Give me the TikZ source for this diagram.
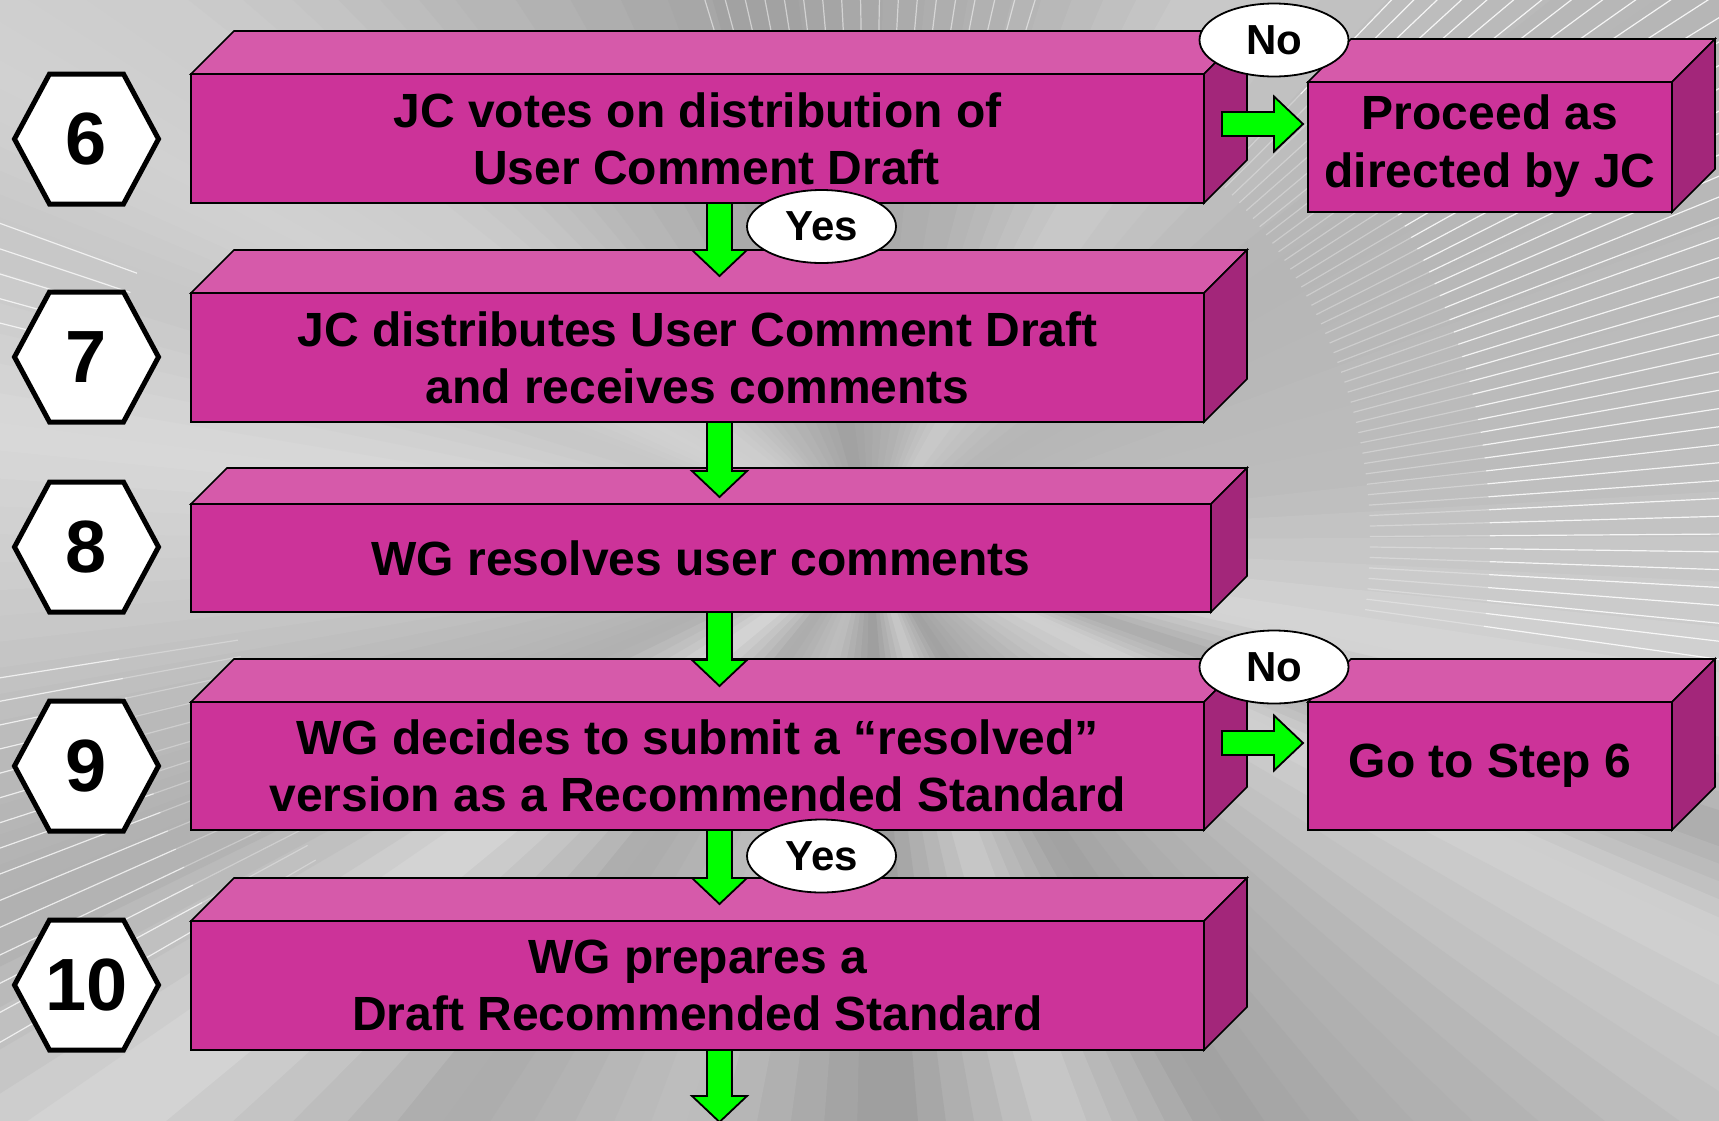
\documentclass[tikz,border=0pt]{standalone}
\usepackage{fontspec}
\setmainfont{Liberation Sans}
\usetikzlibrary{calc,shapes.geometric}
\definecolor{mfront}{RGB}{204,51,153}
\definecolor{mtop}{RGB}{214,90,170}
\definecolor{mside}{RGB}{163,38,122}
\definecolor{garr}{RGB}{0,255,0}
\tikzset{
 front/.style={draw=black,line width=1.6pt,fill=mfront,inner sep=0pt,outer sep=0pt,align=center,font=\fontsize{48}{57}\selectfont\bfseries},
 topface/.style={draw=black,line width=1.6pt,fill=mtop,line join=miter},
 sideface/.style={draw=black,line width=1.6pt,fill=mside,line join=miter},
 garrow/.style={draw=black,line width=1.8pt,fill=garr,line join=miter},
 hexline/.style={draw=black,line width=5pt,fill=white,line join=miter},
 hexnum/.style={inner sep=0pt,font=\fontsize{74}{74}\selectfont\bfseries},
 lab/.style={ellipse,draw=black,line width=1.8pt,fill=white,inner sep=0pt,minimum width=149pt,minimum height=73pt,font=\fontsize{42}{42}\selectfont\bfseries},
 wl/.style={white,line width=1.2pt},
}
\newcommand\cubefaces[2]{%
 \path[topface] (#1.north west) -- ++(#2,-#2) -- ($(#1.north east)+(#2,-#2)$) -- (#1.north east) -- cycle;
 \path[sideface] (#1.north east) -- ($(#1.north east)+(#2,-#2)$) -- ($(#1.south east)+(#2,-#2)$) -- (#1.south east) -- cycle;}
\newcommand\garrdown[2]{%
 \path[garrow] let \p1=(#1), \p2=(#2) in
 (\x1-12.5pt,\y1) -- (\x1+12.5pt,\y1) -- (\x1+12.5pt,\y2+26pt) -- (\x1+27.5pt,\y2+26pt) -- (\x1,\y2) -- (\x1-27.5pt,\y2+26pt) -- (\x1-12.5pt,\y2+26pt) -- cycle;}
\newcommand\garrright[2]{%
 \path[garrow] let \p1=(#1), \p2=(#2) in
 (\x1,\y1+12pt) -- (\x2-29pt,\y1+12pt) -- (\x2-29pt,\y1+27.5pt) -- (\x2,\y1) -- (\x2-29pt,\y1-27.5pt) -- (\x2-29pt,\y1-12pt) -- (\x1,\y1-12pt) -- cycle;}
\newcommand\hexat[3]{%
 \coordinate (hc#1) at (86.5,#2);
 \path[hexline] ($(hc#1)+(-37,-65)$) -- ($(hc#1)+(37,-65)$) -- ($(hc#1)+(72,0)$) -- ($(hc#1)+(37,65)$) -- ($(hc#1)+(-37,65)$) -- ($(hc#1)+(-72,0)$) -- cycle;
 \node[hexnum] (h#1) at (hc#1) {#3};}
\begin{document}
\begin{tikzpicture}[x=1pt,y=-1pt]
\useasboundingbox (0,0) rectangle (1719,1120);
% ---------- background ----------
\begin{scope}
\clip (0,0) rectangle (1719,1120);
\fill[white!72!black] (0,0) rectangle (1719,1120);
\coordinate (C) at (870,540);
\foreach \a/\g [remember=\a as \pa (initially -153), remember=\g as \pg (initially 82)] in
  {-153/82, -141.6/80, -127.5/72, -102/63, -75.3/70, -58/79, -34.5/71, -6.3/74, 11.9/84, 18.8/67, 25/82, 41/71, 58.8/63, 71.7/79, 88/61, 107.5/75, 126.3/67, 143.3/84, 156/69, 166.6/73, 176.7/80, 187.7/85, 199/78, 207/82} {
  \foreach \k in {0,...,5} {
    \pgfmathsetmacro\ta{\pa+(\a-\pa)*\k/6}
    \pgfmathsetmacro\tb{\pa+(\a-\pa)*(\k+1)/6+0.4}
    \pgfmathsetmacro\gg{\pg+(\g-\pg)*(\k+0.5)/6}
    \fill[white!\gg!black] (C) -- ($(C)+(\ta:2500)$) -- ($(C)+(\tb:2500)$) -- cycle;
  }
}
\foreach \a in {-46,-44.8,...,8} {
  \draw[wl,opacity=0.3] ($(C)+(\a:500)$) -- ($(C)+(\a:620)$);
  \draw[wl,opacity=0.85] ($(C)+(\a:620)$) -- ($(C)+(\a:1400)$);}
\foreach \a in {-107,-105,...,-72} {
  \draw[wl,opacity=0.5] ($(C)+(\a:500)$) -- ($(C)+(\a:900)$);}
\foreach \a in {150,151.5,...,172} {
  \draw[wl,opacity=0.3] ($(C)+(\a:640)$) -- ($(C)+(\a:760)$);
  \draw[wl,opacity=0.75] ($(C)+(\a:760)$) -- ($(C)+(\a:1200)$);}
\foreach \a in {194,195.5,...,201} {
  \draw[wl,opacity=0.75] ($(C)+(\a:780)$) -- ($(C)+(\a:1200)$);}
\end{scope}
% ---------- hexagons ----------
\hexat{6}{139}{6}
\hexat{7}{357}{7}
\hexat{8}{547}{8}
\hexat{9}{766}{9}
\hexat{10}{985}{10}
% ---------- boxes ----------
\node[front,minimum width=1013pt,minimum height=129pt] (b6) at (697.5,138.5) {JC votes on distribution of\\\hspace*{18pt}User Comment Draft};
\cubefaces{b6}{43}
\node[front,minimum width=1013pt,minimum height=129pt] (b7) at (697.5,357.5) {JC distributes User Comment Draft\\and receives comments};
\cubefaces{b7}{43}
\node[front,minimum width=1020pt,minimum height=108pt] (b8) at (701,558) {WG resolves user comments};
\cubefaces{b8}{36}
\node[front,minimum width=1013pt,minimum height=128pt] (b9) at (697.5,766) {WG decides to submit a “resolved”\\version as a Recommended Standard};
\cubefaces{b9}{43}
\node[front,minimum width=1013pt,minimum height=129pt] (b10) at (697.5,985.5) {WG prepares a\\Draft Recommended Standard};
\cubefaces{b10}{43}
\node[front,minimum width=364pt,minimum height=130pt] (pr) at (1490,147) {\raisebox{-3pt}{\begin{tabular}{@{}c@{}}Proceed as\\[1pt]directed by JC\end{tabular}}};
\cubefaces{pr}{43}
\node[front,minimum width=364pt,minimum height=128pt] (go) at (1490,766) {\raisebox{-3pt}{Go to Step 6}};
\cubefaces{go}{43}
% ---------- arrows ----------
\coordinate (ax) at (719.5,0);
\coordinate (end) at (719.5,1122);
\garrdown{ax |- b6.south}{$(ax |- b7.north)+(0,-17)$}
\garrdown{ax |- b7.south}{$(ax |- b8.north)+(0,-7)$}
\garrdown{ax |- b8.south}{$(ax |- b9.north)+(0,-16)$}
\garrdown{ax |- b9.south}{$(ax |- b10.north)+(0,-17)$}
\garrdown{ax |- b10.south}{end}
\coordinate (s1) at ($(b6.east)+(18,-14.5)$);
\coordinate (t1) at ($(pr.west |- s1)+(-5,0)$);
\garrright{s1}{t1}
\coordinate (s2) at ($(b9.east)+(18,-23)$);
\coordinate (t2) at ($(go.west |- s2)+(-5,0)$);
\garrright{s2}{t2}
% ---------- labels ----------
\node[lab] (no1) at (1274,40) {No};
\node[lab] (no2) at (1274,667) {No};
\node[lab] (yes1) at (821.5,226.5) {Yes};
\node[lab] (yes2) at (821.5,856) {Yes};
\end{tikzpicture}
\end{document}
